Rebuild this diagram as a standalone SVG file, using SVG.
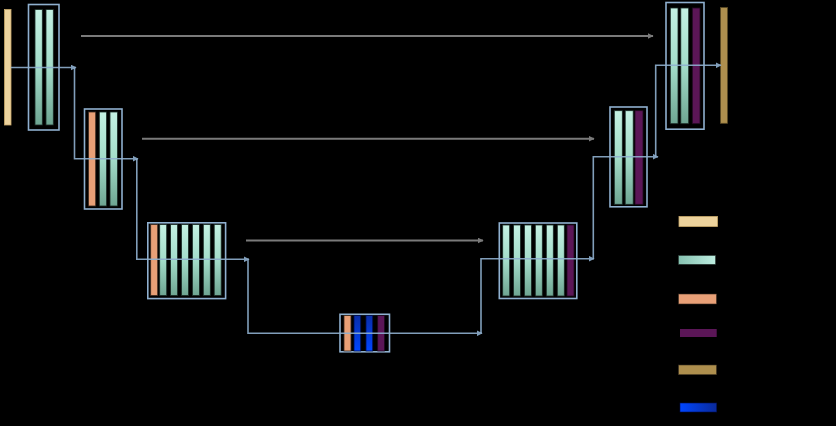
<svg xmlns="http://www.w3.org/2000/svg" width="836" height="426" viewBox="0 0 836 426">
<defs>
<linearGradient id="mint" x1="0" y1="0" x2="0" y2="1"><stop offset="0" stop-color="#c4f1e3"/><stop offset="0.5" stop-color="#a3dcc9"/><stop offset="1" stop-color="#6ea592"/></linearGradient>
<linearGradient id="mintH" x1="0" y1="0" x2="1" y2="0"><stop offset="0" stop-color="#86c2b1"/><stop offset="1" stop-color="#bdede0"/></linearGradient>
<linearGradient id="blue" x1="0" y1="0" x2="0" y2="1"><stop offset="0" stop-color="#0a2ea8"/><stop offset="1" stop-color="#0046ff"/></linearGradient>
<linearGradient id="blueH" x1="0" y1="0" x2="1" y2="0"><stop offset="0" stop-color="#0046ff"/><stop offset="1" stop-color="#0a2a9a"/></linearGradient>
<marker id="ab" viewBox="0 0 10 10" refX="9" refY="5" markerWidth="6" markerHeight="6" markerUnits="userSpaceOnUse" orient="auto"><path d="M0,0 L10,5 L0,10 Z" fill="#8fb0cf"/></marker>
<marker id="ag" viewBox="0 0 10 10" refX="9" refY="5" markerWidth="6" markerHeight="6" markerUnits="userSpaceOnUse" orient="auto"><path d="M0,0 L10,5 L0,10 Z" fill="#7a7a7a"/></marker>
</defs>
<style>
.box{fill:none;stroke:#8fb0cf;stroke-width:1.6}
.m{fill:url(#mint);stroke:#1a2a25;stroke-width:0.8}
.o{fill:#e8a077;stroke:#3a2a20;stroke-width:0.8}
.p{fill:#5b1657;stroke:#200a20;stroke-width:0.8}
.b{fill:url(#blue);stroke:#001050;stroke-width:0.8}
.c{fill:none;stroke:#8fb0cf;stroke-width:1.6;opacity:0.9;marker-end:url(#ab)}
.s{fill:none;stroke:#7a7a7a;stroke-width:2;marker-end:url(#ag)}
</style>
<rect width="836" height="426" fill="#000"/>
<g id="input"><rect x="4.5" y="9.5" width="6.5" height="115.5" fill="#edd39d" stroke="#c9a96a" stroke-width="0.8"/></g>
<g id="enc1"><rect class="box" x="28.5" y="4.5" width="30.5" height="125.5"/><rect class="m" x="35" y="9.5" width="7.3" height="115.5"/><rect class="m" x="46" y="9.5" width="7.3" height="115.5"/></g>
<g id="enc2"><rect class="box" x="84.5" y="109" width="37.5" height="100"/><rect class="o" x="88.5" y="112" width="7.2" height="94"/><rect class="m" x="99.3" y="112" width="7.3" height="94"/><rect class="m" x="110" y="112" width="7.5" height="94"/></g>
<g id="enc3"><rect class="box" x="147.8" y="222.8" width="77.8" height="75.8"/><rect class="o" x="150.7" y="224.5" width="7" height="71"/><rect class="m" x="159.7" y="224.5" width="7" height="71"/><rect class="m" x="170.6" y="224.5" width="7" height="71"/><rect class="m" x="181.5" y="224.5" width="7" height="71"/><rect class="m" x="192.4" y="224.5" width="7" height="71"/><rect class="m" x="203.3" y="224.5" width="7" height="71"/><rect class="m" x="214.2" y="224.5" width="7" height="71"/></g>
<g id="bottleneck"><rect class="box" x="340" y="314.3" width="49.5" height="37.5"/><rect class="o" x="344" y="315.5" width="7" height="35.5"/><rect class="b" x="354" y="315.5" width="6.7" height="35.5"/><rect class="b" x="366" y="315.5" width="6.7" height="35.5"/><rect class="p" x="377.7" y="315.5" width="6.7" height="35.5"/></g>
<g id="dec3"><rect class="box" x="499.3" y="223" width="77.5" height="75.5"/><rect class="m" x="502.7" y="225" width="7" height="71"/><rect class="m" x="513.5" y="225" width="7" height="71"/><rect class="m" x="524.4" y="225" width="7" height="71"/><rect class="m" x="535.3" y="225" width="7" height="71"/><rect class="m" x="546.3" y="225" width="7" height="71"/><rect class="m" x="557.3" y="225" width="7" height="71"/><rect class="p" x="567" y="225" width="7" height="71"/></g>
<g id="dec2"><rect class="box" x="610" y="107" width="37" height="99.8"/><rect class="m" x="614.3" y="110.7" width="8" height="93.6"/><rect class="m" x="625.2" y="110.7" width="8" height="93.6"/><rect class="p" x="635" y="110.7" width="8" height="93.6"/></g>
<g id="dec1"><rect class="box" x="666" y="2.5" width="38" height="126.7"/><rect class="m" x="670.3" y="8" width="7.7" height="115.7"/><rect class="m" x="680.8" y="8" width="7.9" height="115.7"/><rect class="p" x="692.3" y="8" width="7.7" height="115.7"/></g>
<g id="output"><rect x="720.5" y="7.5" width="7" height="115.8" fill="#ae8f4e" stroke="#5a4a25" stroke-width="0.8"/></g>
<g id="legend">
<rect x="679" y="216.5" width="38.5" height="10" fill="#edd39d" stroke="#c9a96a" stroke-width="0.8"/>
<rect x="678.5" y="255.5" width="37" height="8.8" fill="url(#mintH)" stroke="#2a3a35" stroke-width="0.6"/>
<rect x="678.5" y="294" width="38" height="10" fill="#e8a077" stroke="#3a2a20" stroke-width="0.6"/>
<rect x="680" y="329" width="36.7" height="8" fill="#5b1657"/>
<rect x="678.5" y="365" width="38" height="9.7" fill="#ae8f4e" stroke="#3a3020" stroke-width="0.6"/>
<rect x="680" y="403" width="36.7" height="9" fill="url(#blueH)" stroke="#001050" stroke-width="0.6"/>
</g>
<g id="connectors">
<path class="s" d="M81,36 H653"/>
<path class="s" d="M142,138.7 H594"/>
<path class="s" d="M246,240.5 H483"/>
<path class="c" d="M11,67.5 H76"/>
<path class="c" d="M74.5,67.5 V158.7 H138"/>
<path class="c" d="M136.8,158.7 V259.3 H249"/>
<path class="c" d="M248,259.3 V333.3 H482"/>
<path class="c" d="M481,333.3 V258.7 H594"/>
<path class="c" d="M593.3,258.7 V156.7 H658"/>
<path class="c" d="M655.7,156.7 V65.3 H721"/>
</g>
</svg>
